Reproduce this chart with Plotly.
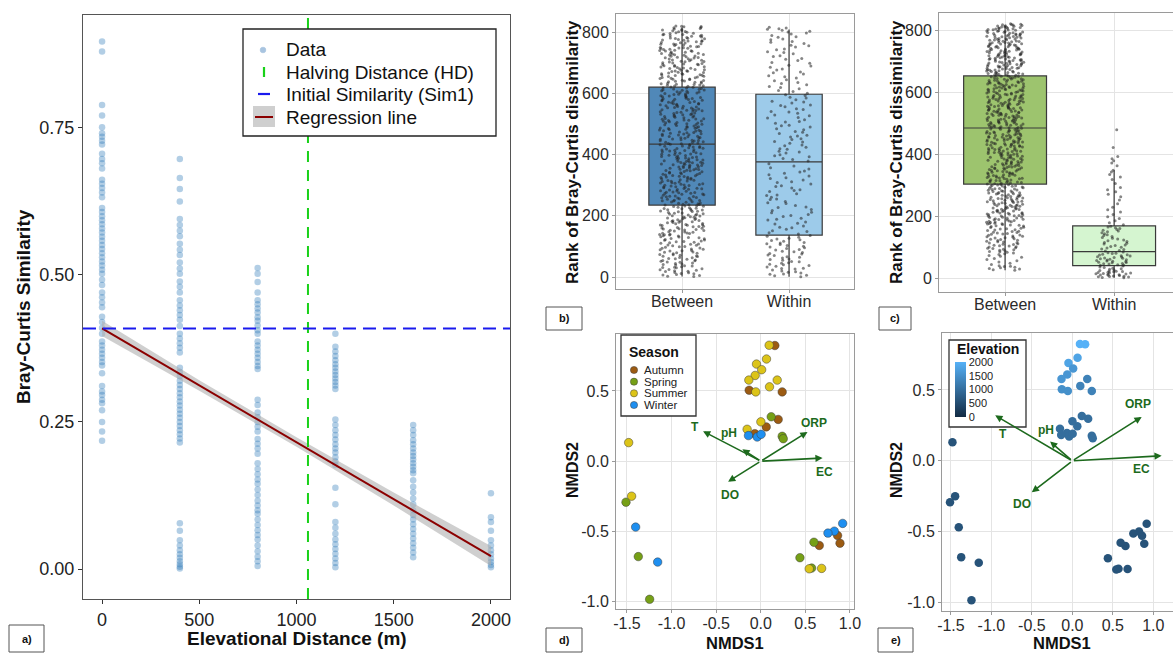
import plotly.graph_objects as go

W, H = 1173, 653
FONT = "Liberation Sans, Arial, sans-serif"


def px(x):
    return x / W


def py(y):
    return 1 - y / H


# ---------------- Panel a data: Bray-Curtis similarity vs elevational distance
distances = [0, 400, 800, 1200, 1600, 2000]
sim_0 = [0.897, 0.880, 0.789, 0.771, 0.751, 0.741, 0.735, 0.728, 0.722, 0.706, 0.697, 0.690,
         0.681, 0.662, 0.655, 0.648, 0.640, 0.632, 0.614, 0.607, 0.600, 0.593, 0.586, 0.579,
         0.572, 0.565, 0.558, 0.551, 0.544, 0.537, 0.530, 0.523, 0.516, 0.509, 0.502, 0.492,
         0.483, 0.470, 0.462, 0.453, 0.445, 0.429, 0.420, 0.410, 0.400, 0.387, 0.380, 0.373,
         0.366, 0.359, 0.352, 0.346, 0.333, 0.311, 0.302, 0.296, 0.288, 0.282, 0.270, 0.250,
         0.234, 0.218]
sim_400 = [0.697, 0.665, 0.646, 0.625, 0.595, 0.585, 0.575, 0.566, 0.553, 0.543, 0.534, 0.521,
           0.511, 0.502, 0.489, 0.480, 0.470, 0.457, 0.448, 0.440, 0.432, 0.424, 0.413, 0.400,
           0.392, 0.384, 0.376, 0.368, 0.342, 0.335, 0.328, 0.320, 0.313, 0.306, 0.299, 0.292,
           0.285, 0.278, 0.271, 0.264, 0.257, 0.250, 0.243, 0.236, 0.229, 0.222, 0.215, 0.078,
           0.065, 0.049, 0.040, 0.032, 0.025, 0.019, 0.013, 0.008, 0.004, 0.001]
sim_800 = [0.512, 0.502, 0.488, 0.470, 0.457, 0.450, 0.443, 0.436, 0.428, 0.422, 0.414, 0.406,
           0.400, 0.387, 0.380, 0.373, 0.366, 0.359, 0.352, 0.345, 0.340, 0.288, 0.279, 0.266,
           0.258, 0.250, 0.242, 0.234, 0.221, 0.213, 0.205, 0.196, 0.180, 0.170, 0.161, 0.152,
           0.145, 0.135, 0.126, 0.116, 0.108, 0.100, 0.094, 0.084, 0.075, 0.066, 0.058, 0.050,
           0.040, 0.030, 0.021, 0.013, 0.005]
sim_1200 = [0.400, 0.378, 0.370, 0.362, 0.355, 0.348, 0.342, 0.336, 0.330, 0.324, 0.318, 0.312,
            0.306, 0.254, 0.245, 0.236, 0.228, 0.220, 0.212, 0.205, 0.198, 0.190, 0.183, 0.177,
            0.138, 0.110, 0.080, 0.070, 0.060, 0.050, 0.042, 0.034, 0.026, 0.018, 0.010, 0.003]
sim_1600 = [0.245, 0.236, 0.228, 0.219, 0.212, 0.205, 0.198, 0.192, 0.186, 0.180, 0.174, 0.168,
            0.163, 0.151, 0.140, 0.130, 0.120, 0.110, 0.100, 0.092, 0.084, 0.076, 0.068, 0.060,
            0.052, 0.044, 0.036, 0.028, 0.020]
sim_2000 = [0.129, 0.088, 0.080, 0.065, 0.049, 0.040, 0.032, 0.025, 0.018, 0.012, 0.007, 0.003]
sim_columns = [sim_0, sim_400, sim_800, sim_1200, sim_1600, sim_2000]

halving_distance = 1059
initial_similarity = 0.409
reg_x = [0, 2000]
reg_y = [0.409, 0.022]
band_x = [0, 500, 1000, 1500, 2000]
band_lo = [0.396, 0.303, 0.208, 0.108, 0.005]
band_hi = [0.422, 0.321, 0.224, 0.130, 0.039]

a_xticks = [0, 500, 1000, 1500, 2000]
a_xlabels = ["0", "500", "1000", "1500", "2000"]
a_yticks = [0.0, 0.25, 0.5, 0.75]
a_ylabels = ["0.00", "0.25", "0.50", "0.75"]

# ---------------- Panels b, c: rank of Bray-Curtis dissimilarity (ranks 1..820)
groups = ["Between", "Within"]
n_ranks = 820
within_b = [1, 4, 6, 9, 10, 13, 16, 17, 20, 23, 26, 28, 29, 33, 35, 38, 40, 42, 45, 47, 50, 51,
            55, 57, 59, 62, 65, 66, 70, 72, 75, 77, 80, 83, 84, 88, 90, 93, 96, 98, 101, 103, 106,
            109, 111, 113, 117, 119, 122, 124, 127, 130, 133, 136,
            141, 145, 149, 151, 156, 161, 163, 167, 173, 176, 180, 186, 189, 192, 198, 201, 204,
            210, 212, 217, 221, 227, 229, 234, 240, 243, 247, 253, 255, 261, 266, 268, 272, 279,
            283, 285, 291, 296, 298, 304, 309, 311, 317, 322, 324, 330, 334, 339, 343, 346, 353,
            357, 363, 370,
            379, 384, 387, 393, 396, 399, 405, 408, 411, 417, 419, 424, 429, 431, 437, 441, 443,
            449, 452, 457, 461, 463, 469, 473, 475, 481, 484, 490, 494, 496, 502, 506, 508, 514,
            519, 521, 527, 529, 535, 539, 541, 547, 550, 556, 560, 562, 568, 572, 574, 579, 585,
            587, 593, 595,
            600, 606, 609, 615, 619, 622, 628, 632, 635, 641, 644, 650, 654, 657, 663, 667, 670,
            676, 679, 685, 689, 692, 698, 701, 707, 711, 714, 720, 723, 729, 733, 736, 742, 745,
            751, 755, 757, 763, 767, 769, 775, 777, 783, 785, 789, 794, 797, 800, 803, 806, 809,
            811, 813, 816]
within_c = [1, 2, 3, 4, 5, 6, 7, 8, 9, 10, 11, 12, 13, 14, 15, 16, 17, 18, 19, 20, 21, 22, 23,
            24, 26, 28, 30, 32, 34, 36, 39,
            41, 42, 43, 45, 46, 47, 49, 50, 51, 53, 54, 55, 57, 58, 59, 61, 62, 64, 65, 66, 68,
            69, 71, 72, 74, 75, 77, 79, 80, 82, 84,
            87, 89, 92, 94, 97, 99, 102, 105, 107, 110, 112, 115, 118, 120, 123, 126, 128, 131,
            134, 137, 140, 143, 146, 149, 152, 154, 157, 160, 162, 165, 167,
            172, 178, 185, 192, 198, 205, 213, 220, 228, 240, 252, 262, 270, 278, 285, 292, 305,
            318, 326, 334, 342, 348,
            362, 371, 378, 385, 392, 421, 478]
b_q1 = [235, 137]
b_med = [434, 376]
b_q3 = [620, 597]
b_low = [2, 1]
b_high = [815, 808]
c_q1 = [303, 40]
c_med = [484, 85]
c_q3 = [652, 168]
c_low = [25, 1]
c_high = [815, 348]
rank_ticks = [0, 200, 400, 600, 800]

# ---------------- Panels d, e: NMDS ordination
nmds1 = [0.158, -0.130, 0.240, 0.195, 0.061, -0.067, 0.861, 0.888, 0.656,
         0.117, 0.240, 0.252, -1.511, -1.373, -1.246, 0.596, 0.439, 0.570,
         0.094, -0.048, 0.064, 0.010, -0.063, -0.134, 0.184, 0.098, -0.056, 0.001, -0.153,
         -1.481, -1.448, 0.543, 0.682,
         -0.138, -0.040, 0.004, -1.403, -1.156, 0.918, 0.824, 0.753]
nmds2 = [0.823, 0.505, 0.493, 0.297, 0.244, 0.196, -0.529, -0.584, -0.600,
         0.316, 0.177, 0.160, -0.292, -0.679, -0.983, -0.577, -0.687, -0.761,
         0.825, 0.691, 0.727, 0.651, 0.610, 0.577, 0.577, 0.529, 0.493, 0.280, 0.227,
         0.132, -0.249, -0.766, -0.763,
         0.182, 0.172, 0.191, -0.469, -0.718, -0.443, -0.498, -0.512]
season = (["Autumn"] * 9 + ["Spring"] * 9 + ["Summer"] * 15 + ["Winter"] * 8)
elevation = [2000, 1500, 1300, 1000, 1000, 1000, 600, 600, 600,
             1000, 1000, 1000, 600, 600, 600, 600, 600, 600,
             2000, 1800, 1800, 1600, 1600, 1600, 1300, 1300, 1500, 1000, 1000,
             600, 600, 600, 600,
             1000, 1000, 1000, 600, 600, 600, 600, 600]
seasons = ["Autumn", "Spring", "Summer", "Winter"]
season_colors = ["#9c5b12", "#76a016", "#dcc418", "#1e8ff0"]

env_vars = ["T", "pH", "ORP", "EC", "DO"]
arrow_d_x = [-0.647, -0.206, 0.524, 0.693, -0.366]
arrow_d_y = [0.213, 0.084, 0.208, 0.022, -0.146]
arrow_e_x = [-0.953, -0.275, 0.856, 1.103, -0.501]
arrow_e_y = [0.321, 0.136, 0.310, 0.036, -0.221]

nmds_xticks = [-1.5, -1.0, -0.5, 0.0, 0.5, 1.0]
nmds_xlabels = ["-1.5", "-1.0", "-0.5", "0.0", "0.5", "1.0"]
nmds_yticks = [-1.0, -0.5, 0.0, 0.5]
nmds_ylabels = ["-1.0", "-0.5", "0.0", "0.5"]
elev_ticks = [0, 500, 1000, 1500, 2000]

# ---------------- styles
GREEN_ARROW = "#1d6a1d"
label_shift_d = {"T": (-8, 4), "pH": (-13, 16), "ORP": (6, 9), "EC": (2, -14), "DO": (2, -13)}
label_shift_e = {"T": (8, -19), "pH": (-4, 12), "ORP": (-4, 13), "EC": (-20, -13), "DO": (-10, -12)}

fig = go.Figure()

# ---- panel a traces
xs, ys = [], []
for d, col in zip(distances, sim_columns):
    xs += [d] * len(col)
    ys += col
fig.add_trace(go.Scatter(x=xs, y=ys, mode="markers", xaxis="x", yaxis="y",
                         marker=dict(size=6.5, color="#2a78b8", opacity=0.36),
                         showlegend=False, hoverinfo="skip"))
fig.add_trace(go.Scatter(x=band_x + band_x[::-1], y=band_hi + band_lo[::-1],
                         fill="toself", fillcolor="rgba(175,175,175,0.6)",
                         line=dict(width=0), mode="lines", xaxis="x", yaxis="y",
                         showlegend=False, hoverinfo="skip"))
fig.add_trace(go.Scatter(x=reg_x, y=reg_y, mode="lines", line=dict(color="#8b0000", width=2),
                         xaxis="x", yaxis="y", showlegend=False, hoverinfo="skip"))


# ---- panels b, c
def add_box_panel(xa, ya, within, q1, med, q3, low, high, colors, width, jitter):
    within_set = set(within)
    between = [r for r in range(1, n_ranks + 1) if r not in within_set]
    for i, g in enumerate(groups):
        fig.add_trace(go.Box(x=[g], q1=[q1[i]], median=[med[i]], q3=[q3[i]],
                             lowerfence=[low[i]], upperfence=[high[i]],
                             fillcolor=colors[i], line=dict(color="#3a3a3a", width=1.2),
                             whiskerwidth=0, width=width, boxpoints=False,
                             xaxis=xa, yaxis=ya, showlegend=False, hoverinfo="skip"))
    for g, vals in zip(groups, [between, within]):
        fig.add_trace(go.Box(x=[g] * len(vals), y=vals, boxpoints="all", jitter=jitter,
                             pointpos=0, width=width, fillcolor="rgba(0,0,0,0)",
                             line=dict(width=0, color="rgba(0,0,0,0)"), whiskerwidth=0,
                             marker=dict(size=3, color="rgba(35,35,35,0.55)",
                                         line=dict(width=0)),
                             xaxis=xa, yaxis=ya, showlegend=False, hoverinfo="skip"))


add_box_panel("x2", "y2", within_b, b_q1, b_med, b_q3, b_low, b_high,
              ["#5088b8", "#9dcbea"], 0.62, 0.68)
add_box_panel("x3", "y3", within_c, c_q1, c_med, c_q3, c_low, c_high,
              ["#9dc46e", "#d5f5d0"], 0.76, 0.45)

# ---- panel d
for s, c in zip(seasons, season_colors):
    idx = [i for i, v in enumerate(season) if v == s]
    fig.add_trace(go.Scatter(x=[nmds1[i] for i in idx], y=[nmds2[i] for i in idx],
                             mode="markers", xaxis="x4", yaxis="y4",
                             marker=dict(size=8.5, color=c,
                                         line=dict(color="rgba(60,60,60,0.7)", width=0.7)),
                             showlegend=False, hoverinfo="skip"))
# ---- panel e
fig.add_trace(go.Scatter(x=nmds1, y=nmds2, mode="markers", xaxis="x5", yaxis="y5",
                         marker=dict(size=8.5, color=elevation, coloraxis="coloraxis"),
                         showlegend=False, hoverinfo="skip"))

annotations = []
shapes = []

# arrows
for xa, ya, axs, ays, shifts in [("x4", "y4", arrow_d_x, arrow_d_y, label_shift_d),
                                 ("x5", "y5", arrow_e_x, arrow_e_y, label_shift_e)]:
    for name, ax_, ay_ in zip(env_vars, axs, ays):
        annotations.append(dict(x=ax_, y=ay_, ax=0, ay=0, xref=xa, yref=ya, axref=xa, ayref=ya,
                                text="", showarrow=True, arrowhead=2, arrowsize=0.9,
                                arrowwidth=1.6, arrowcolor=GREEN_ARROW, standoff=0))
        dx, dy = shifts[name]
        annotations.append(dict(x=ax_, y=ay_, xref=xa, yref=ya, text="<b>%s</b>" % name,
                                showarrow=False, xshift=dx, yshift=dy,
                                font=dict(size=12, color=GREEN_ARROW, family=FONT)))

# reference lines panel a
shapes.append(dict(type="line", xref="x", yref="y domain", x0=halving_distance,
                   x1=halving_distance, y0=0, y1=1,
                   line=dict(color="#19d119", width=2, dash="11px,8px")))
shapes.append(dict(type="line", xref="x domain", yref="y", x0=0, x1=1,
                   y0=initial_similarity, y1=initial_similarity,
                   line=dict(color="#1a1aee", width=2, dash="13px,7px")))


def rect(x0, y0, x1, y1, color="#333", width=1, fill="white"):
    shapes.append(dict(type="rect", xref="paper", yref="paper", x0=px(x0), x1=px(x1),
                       y0=py(y1), y1=py(y0), line=dict(color=color, width=width),
                       fillcolor=fill, layer="above"))


def text(x, y, s, size, color="#111", anchor="left", angle=0):
    annotations.append(dict(x=px(x), y=py(y), xref="paper", yref="paper", text=s,
                            showarrow=False, xanchor=anchor, yanchor="middle",
                            textangle=angle, font=dict(size=size, color=color, family=FONT)))


def circle(cx, cy, r, color, line_color=None):
    shapes.append(dict(type="circle", xref="paper", yref="paper", x0=px(cx - r), x1=px(cx + r),
                       y0=py(cy + r), y1=py(cy - r), fillcolor=color,
                       line=dict(color=line_color or color, width=0.7), layer="above"))


def seg(x0, y0, x1, y1, color, width):
    shapes.append(dict(type="line", xref="paper", yref="paper", x0=px(x0), x1=px(x1),
                       y0=py(y0), y1=py(y1), line=dict(color=color, width=width), layer="above"))


# panel a legend
rect(243, 29, 496, 136, color="#222", width=1.3)
circle(263, 50, 2.8, "#a8c4e0")
text(284, 50, "Data", 19)
seg(264, 67, 264, 77, "#19d119", 2.2)
text(284, 72, "Halving Distance (HD)", 19)
seg(258, 94, 270, 94, "#1a1aee", 2.2)
text(284, 94, "Initial Similarity (Sim1)", 19)
shapes.append(dict(type="rect", xref="paper", yref="paper", x0=px(253), x1=px(275),
                   y0=py(127), y1=py(106), line=dict(width=0), fillcolor="#cfcfcf",
                   layer="above"))
seg(255, 117, 273, 117, "#8b0000", 2)
text(284, 117, "Regression line", 19)

# panel d legend
rect(621, 335, 696, 416, color="#333", width=1.3)
text(627, 352, "<b>Season</b>", 14)
for i, (s, c) in enumerate(zip(seasons, season_colors)):
    yy = [370, 381.7, 393.3, 405][i]
    circle(634, yy, 3.6, c, "rgba(60,60,60,0.7)")
    text(642, yy, s, 11.5, color="#222")

# panel e colorbar box + title
rect(949, 340, 1026, 427, color="#333", width=1.3)
text(955, 349, "<b>Elevation</b>", 14)

# axis titles
text(23, 307, "<b>Bray-Curtis Similarity</b>", 19, anchor="center", angle=-90)
text(297, 638, "<b>Elevational Distance (m)</b>", 19, anchor="center")
text(572, 152, "<b>Rank of Bray-Curtis dissimilarity</b>", 17, anchor="center", angle=-90)
text(896, 152, "<b>Rank of Bray-Curtis dissimilarity</b>", 17, anchor="center", angle=-90)
text(572, 470, "<b>NMDS2</b>", 16, anchor="center", angle=-90)
text(735, 643, "<b>NMDS1</b>", 16.5, anchor="center")
text(896, 470, "<b>NMDS2</b>", 16, anchor="center", angle=-90)
text(1062, 643, "<b>NMDS1</b>", 16.5, anchor="center")

# panel labels
for lab, (x0, y0, x1, y1) in zip(["a)", "b)", "c)", "d)", "e)"],
                                 [(9, 625, 44, 652), (546, 307, 582, 330), (879, 307, 911, 330),
                                  (546, 628, 582, 652), (878, 628, 913, 652)]):
    rect(x0, y0, x1, y1, color="#555", width=1)
    text((x0 + x1) / 2, (y0 + y1) / 2, "<b>%s</b>" % lab, 11, anchor="center")

tick_font_a = dict(size=18, color="#222", family=FONT)
tick_font_bc = dict(size=16, color="#2a2a2a", family=FONT)
tick_font_de = dict(size=16, color="#2a2a2a", family=FONT)

common_light = dict(showline=True, mirror=True, linecolor="#9a9a9a", linewidth=1,
                    showgrid=True, gridcolor="#e4e4e4", gridwidth=1, zeroline=False,
                    ticks="outside", ticklen=3, tickcolor="#9a9a9a")

fig.update_layout(
    width=W, height=H, margin=dict(l=0, r=0, t=0, b=0, autoexpand=False),
    paper_bgcolor="white", plot_bgcolor="white",
    font=dict(family=FONT), boxmode="overlay", showlegend=False,
    xaxis=dict(domain=[px(83), px(510)], range=[-98, 2098], anchor="y",
               tickvals=a_xticks, ticktext=a_xlabels, showgrid=False, zeroline=False,
               showline=True, mirror=True, linecolor="#555", linewidth=1.2,
               ticks="outside", ticklen=4, tickcolor="#333", tickfont=tick_font_a),
    yaxis=dict(domain=[py(599), py(15)], range=[-0.051, 0.942], anchor="x",
               tickvals=a_yticks, ticktext=a_ylabels, showgrid=False, zeroline=False,
               showline=True, mirror=True, linecolor="#555", linewidth=1.2,
               ticks="outside", ticklen=4, tickcolor="#333", tickfont=tick_font_a),
    xaxis2=dict(domain=[px(616), px(854)], range=[-0.617, 1.607], anchor="y2",
                type="category", categoryorder="array", categoryarray=groups,
                tickfont=tick_font_bc, ticklabelstandoff=-5, **common_light),
    yaxis2=dict(domain=[py(289), py(14)], range=[-39, 859], anchor="x2",
                tickvals=rank_ticks, tickfont=tick_font_bc, **common_light),
    xaxis3=dict(domain=[px(939), 1.0], range=[-0.606, 1.54], anchor="y3",
                type="category", categoryorder="array", categoryarray=groups,
                tickfont=tick_font_bc, ticklabelstandoff=-5, **common_light),
    yaxis3=dict(domain=[py(292), py(13)], range=[-45, 855], anchor="x3",
                tickvals=rank_ticks, tickfont=tick_font_bc, **common_light),
    xaxis4=dict(domain=[px(616), px(854)], range=[-1.623, 1.045], anchor="y4",
                tickvals=nmds_xticks, ticktext=nmds_xlabels, tickfont=tick_font_de,
                ticklabelstandoff=-3, **common_light),
    yaxis4=dict(domain=[py(609), py(334)], range=[-1.052, 0.905], anchor="x4",
                tickvals=nmds_yticks, ticktext=nmds_ylabels, tickfont=tick_font_de,
                **common_light),
    xaxis5=dict(domain=[px(942), 1.0], range=[-1.61, 1.243], anchor="y5",
                tickvals=nmds_xticks, ticktext=nmds_xlabels, tickfont=tick_font_de,
                ticklabelstandoff=-3, **common_light),
    yaxis5=dict(domain=[py(611), py(333)], range=[-1.059, 0.902], anchor="x5",
                tickvals=nmds_yticks, ticktext=nmds_ylabels, tickfont=tick_font_de,
                **common_light),
    coloraxis=dict(cmin=0, cmax=2000, colorscale=[[0, "#132B43"], [1, "#56B1F7"]],
                   colorbar=dict(x=px(955), xanchor="left", xpad=0, y=py(389.5),
                                 yanchor="middle", ypad=0, len=55, lenmode="pixels",
                                 thickness=11, thicknessmode="pixels", outlinewidth=0,
                                 tickvals=elev_ticks, ticks="",
                                 tickfont=dict(size=11, color="#222", family=FONT))),
    shapes=shapes, annotations=annotations,
)

fig.write_html("out.html", config={"displayModeBar": False},
               post_script="document.body.style.margin='0px';"
                           "document.body.style.overflow='hidden';")
